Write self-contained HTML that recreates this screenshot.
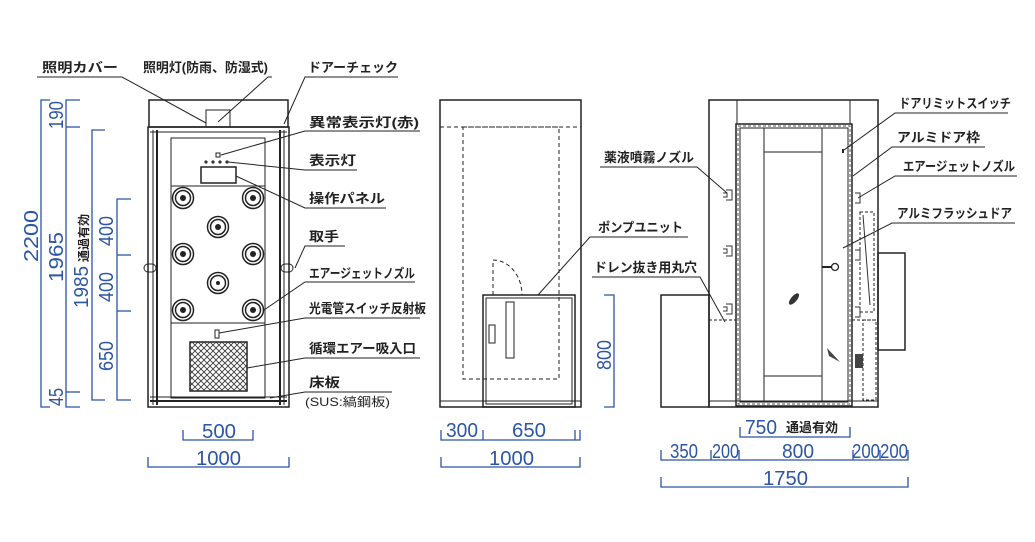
<!DOCTYPE html>
<html><head><meta charset="utf-8"><style>
html,body{margin:0;padding:0;background:#fff;}
svg{display:block;}
.l{font-family:"Liberation Sans","Noto Sans CJK JP",sans-serif;font-size:13px;font-weight:bold;fill:#222;}
.d{font-family:"Liberation Sans","Noto Sans CJK JP",sans-serif;font-size:20px;fill:#2b55a5;}
</style></head><body>
<svg width="1035" height="542" viewBox="0 0 1035 542" xmlns="http://www.w3.org/2000/svg">
<g fill="none" stroke="#222" stroke-width="1">
<rect x="149" y="100" width="139" height="27" stroke-width="1.5"/>
<rect x="148" y="127" width="141" height="280" stroke-width="1.5"/>
<rect x="206" y="110" width="24" height="17"/>
<line x1="150" y1="132" x2="287" y2="132"/>
<line x1="153" y1="130" x2="153" y2="405"/><line x1="157" y1="130" x2="157" y2="405" stroke-width="2"/>
<line x1="284" y1="130" x2="284" y2="405"/><line x1="280" y1="130" x2="280" y2="405" stroke-width="2"/>
<rect x="171" y="138" width="94" height="260"/>
<line x1="171" y1="186" x2="265" y2="186"/><line x1="171" y1="323" x2="265" y2="323"/>
<line x1="150" y1="397" x2="287" y2="397"/><line x1="150" y1="401" x2="287" y2="401" stroke-width="2"/>
<rect x="216" y="153" width="4" height="4"/>
<rect x="201" y="167" width="35" height="16" stroke-width="1.5"/>
<rect x="215" y="330" width="4" height="8"/>
<rect x="190" y="342" width="57" height="49" stroke-width="1.5"/>
<rect x="144" y="264" width="12" height="8" rx="4"/><rect x="281" y="264" width="12" height="8" rx="4"/>
</g>
<defs><pattern id="hx" width="6" height="6" patternUnits="userSpaceOnUse"><path d="M0 0L6 6M6 0L0 6" stroke="#333" stroke-width="0.8"/></pattern></defs>
<rect x="190" y="342" width="57" height="49" fill="url(#hx)"/>
<g fill="#333"><circle cx="206" cy="162" r="1.6"/><circle cx="213" cy="162" r="1.6"/><circle cx="220" cy="162" r="1.6"/><circle cx="227" cy="162" r="1.6"/></g>
<g stroke="#222" fill="none" stroke-width="1.5">
<circle cx="183" cy="198" r="10.5"/><circle cx="183" cy="198" r="7.5"/>
<circle cx="253" cy="198" r="10.5"/><circle cx="253" cy="198" r="7.5"/>
<circle cx="218" cy="227" r="10.5"/><circle cx="218" cy="227" r="7.5"/>
<circle cx="183" cy="254" r="10.5"/><circle cx="183" cy="254" r="7.5"/>
<circle cx="253" cy="254" r="10.5"/><circle cx="253" cy="254" r="7.5"/>
<circle cx="218" cy="283" r="10.5"/><circle cx="218" cy="283" r="7.5"/>
<circle cx="183" cy="310" r="10.5"/><circle cx="183" cy="310" r="7.5"/>
<circle cx="253" cy="310" r="10.5"/><circle cx="253" cy="310" r="7.5"/>
</g>
<g fill="#222"><circle cx="183" cy="198" r="3"/><circle cx="253" cy="198" r="3"/><circle cx="218" cy="227" r="3"/><circle cx="183" cy="254" r="3"/><circle cx="253" cy="254" r="3"/><circle cx="218" cy="283" r="2"/><circle cx="183" cy="310" r="3"/><circle cx="253" cy="310" r="3"/></g>
<g stroke="#222" stroke-width="1" fill="none">
<polyline points="37,77 122,77 206,123"/>
<polyline points="272,77 268,77 218,122"/>
<polyline points="398,77 305,77 284,124"/>
<polyline points="420,131 305,131 221,155"/>
<polyline points="357,170 305,170 228,162"/>
<polyline points="386,208 305,208 236,176"/>
<polyline points="345,246 305,246 295,268"/>
<polyline points="415,282 305,282 264,310"/>
<polyline points="420,318 305,318 219,333"/>
<polyline points="420,358 305,358 247,368"/>
<polyline points="392,392 305,392 270,398"/>
</g>
<text class="l" x="42" y="72" textLength="76" lengthAdjust="spacingAndGlyphs">照明カバー</text>
<text class="l" x="143" y="72" textLength="125" lengthAdjust="spacingAndGlyphs">照明灯(防雨、防湿式)</text>
<text class="l" x="308" y="72" textLength="90" lengthAdjust="spacingAndGlyphs">ドアーチェック</text>
<text class="l" x="309" y="127" textLength="110" lengthAdjust="spacingAndGlyphs">異常表示灯(赤)</text>
<text class="l" x="309" y="165" textLength="47" lengthAdjust="spacingAndGlyphs">表示灯</text>
<text class="l" x="309" y="203" textLength="76" lengthAdjust="spacingAndGlyphs">操作パネル</text>
<text class="l" x="309" y="241" textLength="30" lengthAdjust="spacingAndGlyphs">取手</text>
<text class="l" x="309" y="278" textLength="106" lengthAdjust="spacingAndGlyphs">エアージェットノズル</text>
<text class="l" x="309" y="313" textLength="117" lengthAdjust="spacingAndGlyphs">光電管スイッチ反射板</text>
<text class="l" x="309" y="353" textLength="107" lengthAdjust="spacingAndGlyphs">循環エアー吸入口</text>
<text class="l" x="309" y="387" textLength="31" lengthAdjust="spacingAndGlyphs">床板</text>
<text class="l" x="305" y="406" style="font-size:12px;font-weight:normal" textLength="85" lengthAdjust="spacingAndGlyphs">(SUS:縞鋼板)</text>

<g stroke="#222" fill="none" stroke-width="1.5">
<rect x="440" y="100" width="141" height="307"/>
<line x1="440" y1="401" x2="581" y2="401" stroke-width="1"/>
<rect x="483" y="295" width="92" height="112"/>
<rect x="486" y="298" width="86" height="106" stroke-width="1"/>
<rect x="489" y="325" width="6" height="18" stroke-width="1"/>
<rect x="506" y="302" width="8" height="56" stroke-width="1"/>
</g>
<g stroke="#222" fill="none" stroke-width="1" stroke-dasharray="4,3">
<line x1="440" y1="127" x2="581" y2="127"/>
<rect x="463" y="127" width="96" height="252"/>
<path d="M493 295 L493 260 A29 35 0 0 1 522 295"/>
</g>
<polyline points="688,237 590,237 538,295" stroke="#222" fill="none"/>
<text class="l" x="598" y="232" textLength="85" lengthAdjust="spacingAndGlyphs">ポンプユニット</text>

<g stroke="#222" fill="none" stroke-width="1.5">
<rect x="709" y="100" width="169" height="307"/>
<rect x="661" y="295" width="48" height="112"/>
<rect x="878" y="253" width="27" height="97"/>
<line x1="737" y1="100" x2="737" y2="124" stroke-width="1"/>
<line x1="850" y1="100" x2="850" y2="124" stroke-width="1"/>
<rect x="736" y="124" width="116" height="282"/>
<rect x="740" y="128" width="108" height="274" stroke-width="1"/>
<line x1="764" y1="128" x2="764" y2="402" stroke-width="1"/>
<line x1="822" y1="128" x2="822" y2="402" stroke-width="1"/>
<line x1="764" y1="152" x2="822" y2="152" stroke-width="1"/>
<line x1="764" y1="376" x2="822" y2="376" stroke-width="1"/>
<line x1="709" y1="401" x2="878" y2="401" stroke-width="1"/>
</g>
<rect x="738" y="126" width="112" height="278" fill="none" stroke="#555" stroke-width="1" stroke-dasharray="3,2"/>
<g stroke="#222" fill="none" stroke-width="1" stroke-dasharray="3,2">
<line x1="709" y1="320" x2="736" y2="320"/><line x1="852" y1="320" x2="878" y2="320"/>
<rect x="863" y="320" width="13" height="80"/>
<rect x="860" y="212" width="14" height="100"/>
</g>
<line x1="863" y1="215" x2="870" y2="305" stroke="#333"/>
<line x1="822" y1="267" x2="832" y2="267" stroke="#222" stroke-width="2"/>
<circle cx="835" cy="267" r="3.5" fill="#fff" stroke="#222" stroke-width="1.3"/>
<rect x="842" y="149" width="2" height="4" fill="#222"/>
<ellipse cx="794" cy="299" rx="3" ry="7" transform="rotate(40 794 299)" fill="#333"/>
<path d="M827 348 L840 362 L829 356 Z" fill="#444"/>
<rect x="855" y="354" width="8" height="14" fill="#444"/>
<g stroke="#333" fill="none" stroke-width="1">
<path d="M726 190 h6 v10 h-6 M723 193 h4 v4 h-4"/><path d="M726 246 h6 v10 h-6 M723 249 h4 v4 h-4"/><path d="M726 304 h6 v10 h-6 M723 307 h4 v4 h-4"/>
<path d="M855 193 h5 v10 h-5"/><path d="M855 250 h5 v10 h-5"/><path d="M855 307 h5 v10 h-5"/>
</g>
<g stroke="#222" fill="none">
<polyline points="1008,113 895,113 844,150"/>
<polyline points="985,147 892,147 853,176"/>
<polyline points="1017,176 895,176 858,198"/>
<polyline points="1015,223 892,223 843,248"/>
<polyline points="600,167 697,167 727,193"/>
<polyline points="592,277 700,277 725,322"/>
</g>
<text class="l" x="899" y="108" textLength="112" lengthAdjust="spacingAndGlyphs">ドアリミットスイッチ</text>
<text class="l" x="897" y="142" textLength="83" lengthAdjust="spacingAndGlyphs">アルミドア枠</text>
<text class="l" x="903" y="171" textLength="112" lengthAdjust="spacingAndGlyphs">エアージェットノズル</text>
<text class="l" x="897" y="218" textLength="115" lengthAdjust="spacingAndGlyphs">アルミフラッシュドア</text>
<text class="l" x="604" y="162" textLength="90" lengthAdjust="spacingAndGlyphs">薬液噴霧ノズル</text>
<text class="l" x="594" y="272" textLength="103" lengthAdjust="spacingAndGlyphs">ドレン抜き用丸穴</text>

<g stroke="#2b55a5" fill="none" stroke-width="1.3">
<polyline points="50,100 41,100 41,407 50,407"/>
<polyline points="80,100 66,100 66,407 80,407"/><line x1="66" y1="127" x2="80" y2="127"/><line x1="66" y1="392" x2="80" y2="392"/>
<polyline points="105,130 92,130 92,400 105,400"/>
<polyline points="131,199 117,199 117,400 131,400"/><line x1="117" y1="255" x2="131" y2="255"/><line x1="117" y1="311" x2="131" y2="311"/>
<polyline points="183,430 183,440 253,440 253,430"/>
<polyline points="148,457 148,467 289,467 289,457"/>
<polyline points="441,430 441,440 580,440 580,430"/><line x1="483" y1="430" x2="483" y2="440"/><line x1="575" y1="430" x2="575" y2="440"/>
<polyline points="441,457 441,467 580,467 580,457"/>
<polyline points="604,295 614,295 614,407 604,407"/>
<polyline points="740,427 740,437 850,437 850,427"/>
<polyline points="661,450 661,460 908,460 908,450"/><line x1="711" y1="450" x2="711" y2="460"/><line x1="739" y1="450" x2="739" y2="460"/><line x1="853" y1="450" x2="853" y2="460"/><line x1="880" y1="450" x2="880" y2="460"/>
<polyline points="661,477 661,487 908,487 908,477"/>
</g>
<g class="d">
<text transform="translate(38,262) rotate(-90)" textLength="52" lengthAdjust="spacingAndGlyphs">2200</text>
<text transform="translate(63,129) rotate(-90)" textLength="28" lengthAdjust="spacingAndGlyphs">190</text>
<text transform="translate(63,282) rotate(-90)" textLength="50" lengthAdjust="spacingAndGlyphs">1965</text>
<text transform="translate(63,406) rotate(-90)" textLength="18" lengthAdjust="spacingAndGlyphs">45</text>
<text transform="translate(88,308) rotate(-90)" textLength="42" lengthAdjust="spacingAndGlyphs">1985</text>
<text transform="translate(88,262) rotate(-90)" style="font-size:12px;fill:#222;font-weight:bold">通過有効</text>
<text transform="translate(113,246) rotate(-90)" textLength="30" lengthAdjust="spacingAndGlyphs">400</text>
<text transform="translate(113,302) rotate(-90)" textLength="30" lengthAdjust="spacingAndGlyphs">400</text>
<text transform="translate(113,371) rotate(-90)" textLength="30" lengthAdjust="spacingAndGlyphs">650</text>
<text transform="translate(611,370) rotate(-90)" textLength="30" lengthAdjust="spacingAndGlyphs">800</text>
<text x="202" y="438" textLength="34" lengthAdjust="spacingAndGlyphs">500</text>
<text x="196" y="465" textLength="45" lengthAdjust="spacingAndGlyphs">1000</text>
<text x="446" y="437" textLength="32" lengthAdjust="spacingAndGlyphs">300</text>
<text x="512" y="437" textLength="34" lengthAdjust="spacingAndGlyphs">650</text>
<text x="489" y="465" textLength="45" lengthAdjust="spacingAndGlyphs">1000</text>
<text x="745" y="434" textLength="32" lengthAdjust="spacingAndGlyphs">750</text>
<text x="670" y="458" textLength="28" lengthAdjust="spacingAndGlyphs">350</text>
<text x="712" y="458" textLength="27" lengthAdjust="spacingAndGlyphs">200</text>
<text x="782" y="458" textLength="32" lengthAdjust="spacingAndGlyphs">800</text>
<text x="852" y="458" textLength="28" lengthAdjust="spacingAndGlyphs">200</text>
<text x="880" y="458" textLength="28" lengthAdjust="spacingAndGlyphs">200</text>
<text x="763" y="485" textLength="45" lengthAdjust="spacingAndGlyphs">1750</text>
</g>
<text class="l" x="786" y="432" style="font-size:13px">通過有効</text>
</svg>
</body></html>
